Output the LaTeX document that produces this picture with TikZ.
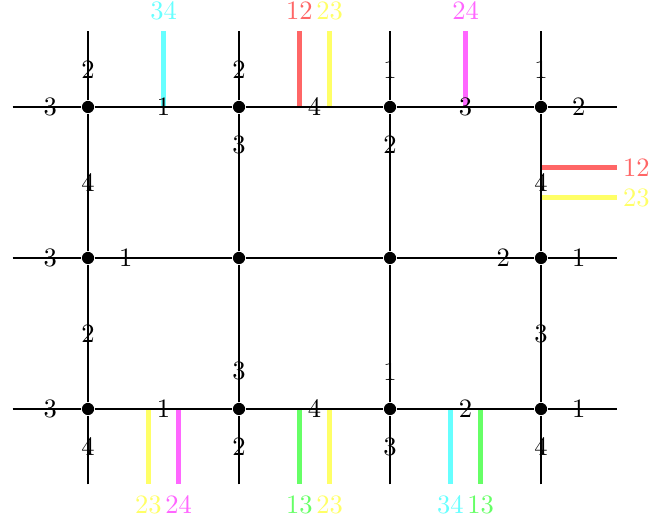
\documentclass[tikz,border=0pt]{standalone}
\definecolor{pcyan}{RGB}{102,255,255}
\definecolor{pmagenta}{RGB}{255,102,255}
\definecolor{pred}{RGB}{255,102,102}
\definecolor{pyellow}{RGB}{255,255,102}
\definecolor{pgreen}{RGB}{102,255,102}
\tikzset{
  vtx/.style={circle, fill, inner sep=0pt, minimum size=4.6pt},
  wire/.style={thick},
  bar/.style={line width=2pt},
}
\begin{document}
\begin{tikzpicture}
\useasboundingbox (-1.166,-1.43) rectangle (7.43,5.417);
% Coloured bars, top
\foreach \x/\c/\t [count=\i] in {1/pcyan/34, 2.8/pred/12, 3.2/pyellow/23, 5/pmagenta/24}{
  \coordinate (tb\i) at (\x,4);
  \coordinate (te\i) at (\x,5);
  \draw[bar, \c] (tb\i) -- (te\i) node[above] (tl\i) {\t};
}
% Coloured bars, bottom
\foreach \x/\c/\t [count=\i] in {0.8/pyellow/23, 1.2/pmagenta/24, 2.8/pgreen/13, 3.2/pyellow/23, 4.8/pcyan/34, 5.2/pgreen/13}{
  \coordinate (bb\i) at (\x,0);
  \coordinate (be\i) at (\x,-1);
  \draw[bar, \c] (bb\i) -- (be\i) node[below] (bl\i) {\t};
}
% Coloured bars, right
\foreach \y/\c/\t [count=\i] in {3.2/pred/12, 2.8/pyellow/23}{
  \coordinate (rb\i) at (6,\y);
  \coordinate (re\i) at (7,\y);
  \draw[bar, \c] (rb\i) -- (re\i) node[right, inner sep=1.5pt] (rl\i) {\t};
}
% Vertices
\foreach \i in {0,...,3}{
  \foreach \j in {0,...,2}{
    \node[vtx] (v\i\j) at (2*\i,2*\j) {};
  }
  \coordinate (s\i) at (2*\i,-1);
  \coordinate (n\i) at (2*\i,5);
}
\foreach \j in {0,...,2}{
  \coordinate (w\j) at (-1,2*\j);
  \coordinate (e\j) at (7,2*\j);
}
% Grid lines
\foreach \j in {0,...,2}
  \draw[wire] (w\j) -- (v0\j) -- (v1\j) -- (v2\j) -- (v3\j) -- (e\j);
\foreach \i in {0,...,3}
  \draw[wire] (s\i) -- (v\i0) -- (v\i1) -- (v\i2) -- (n\i);
% Labels
\foreach \x/\y/\t [count=\i] in {
  0/4.5/2, -0.5/4/3, 1/4/1, 0/3/4,
  2/4.5/2, 2/3.5/3, 3/4/4,
  4/4.5/1, 4/3.5/2, 5/4/3,
  6/4.5/1, 6.5/4/2, 6/3/4,
  -0.5/2/3, 0.5/2/1, 0/1/2,
  5.5/2/2, 6.5/2/1, 6/1/3,
  -0.5/0/3, 0/-0.5/4, 1/0/1,
  2/0.5/3, 2/-0.5/2, 3/0/4,
  4/0.5/1, 4/-0.5/3, 5/0/2,
  6.5/0/1, 6/-0.5/4}
  \node (lab\i) at (\x,\y) {\t};
\end{tikzpicture}
\end{document}
